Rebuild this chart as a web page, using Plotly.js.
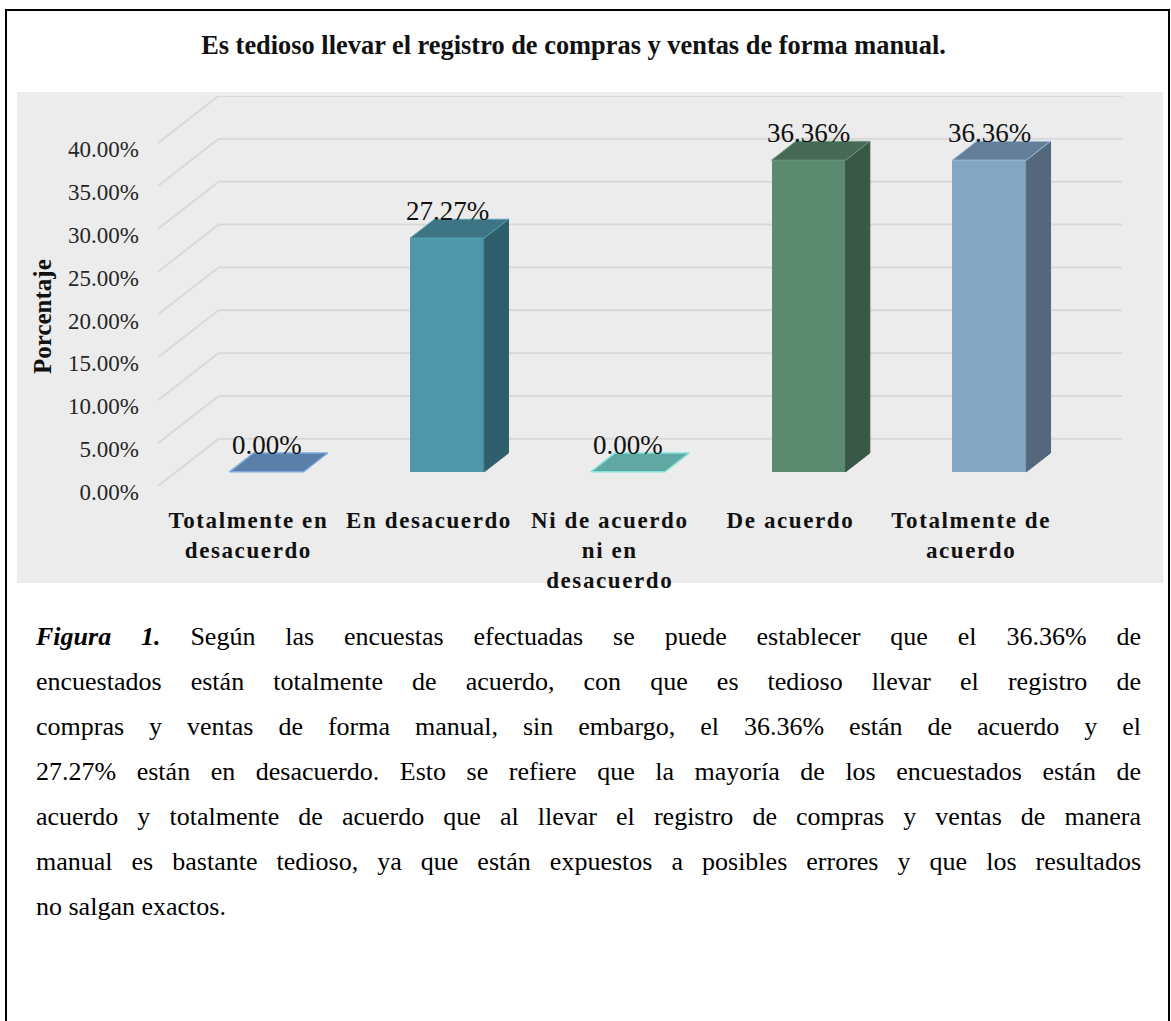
<!DOCTYPE html>
<html>
<head>
<meta charset="utf-8">
<script src="https://cdn.plot.ly/plotly-3.0.1.min.js"></script>
<style>
html,body{margin:0;padding:0;background:#fff;width:1171px;height:1021px;overflow:hidden;}
#frame{position:absolute;left:5px;top:9px;width:1165px;height:1100px;border:2px solid #000;box-sizing:border-box;}
#panel{position:absolute;left:17px;top:92px;width:1146px;height:491px;background:#ececec;}
#chart{position:absolute;left:0;top:0;width:1171px;height:600px;}
#caption{position:absolute;left:36px;top:614px;width:1105px;font-family:"Liberation Serif","Times New Roman",serif;font-size:26px;color:#000;}
#caption div{height:45px;line-height:45px;text-align:justify;text-align-last:justify;white-space:normal;}
#caption div.last{text-align-last:left;}
.xtick text{letter-spacing:1.6px;}
</style>
</head>
<body>
<div id="frame"></div>
<div id="panel"></div>
<div id="chart"></div>
<div id="caption">
<div><b><i>Figura 1.</i></b> Según las encuestas efectuadas se puede establecer que el 36.36% de</div>
<div>encuestados están totalmente de acuerdo, con que es tedioso llevar el registro de</div>
<div>compras y ventas de forma manual, sin embargo, el 36.36% están de acuerdo y el</div>
<div>27.27% están en desacuerdo. Esto se refiere que la mayoría de los encuestados están de</div>
<div>acuerdo y totalmente de acuerdo que al llevar el registro de compras y ventas de manera</div>
<div>manual es bastante tedioso, ya que están expuestos a posibles errores y que los resultados</div>
<div class="last">no salgan exactos.</div>
</div>
<script>
// ---- data ----
const categories = ["Totalmente en desacuerdo", "En desacuerdo", "Ni de acuerdo ni en desacuerdo", "De acuerdo", "Totalmente de acuerdo"];
const tickLabels = ["Totalmente en<br>desacuerdo", "En desacuerdo", "Ni de acuerdo<br>ni en<br>desacuerdo", "De acuerdo", "Totalmente de<br>acuerdo"];
const percentages = [0.00, 27.27, 0.00, 36.36, 36.36];
const yTicks = [0, 5, 10, 15, 20, 25, 30, 35, 40];
const yTickLabels = ["0.00%", "5.00%", "10.00%", "15.00%", "20.00%", "25.00%", "30.00%", "35.00%", "40.00%"];
const chartTitle = "Es tedioso llevar el registro de compras y ventas de forma manual.";
const yTitle = "Porcentaje";

// ---- styles ----
const frontColors = ["#5b80aa", "#4e97a8", "#61a9a3", "#5c8a70", "#84a6c3"];
const sideColors  = ["#42607f", "#2f5f6b", "#3f7d78", "#3a5847", "#53687c"];
const topColors   = ["#5a7fa8", "#3d7584", "#61a8a2", "#466a55", "#667f98"];
const edgeColors  = ["#7aaadd", "#5aa6b6", "#80e3de", "#6a9a7e", "#9cc0e0"];
const FONT = "Liberation Serif, Times New Roman, serif";

// oblique depth vector (in axis units)
const DX = 0.335, DY = 5.5;
const FRONT = 0.3, DEPTH = 0.4, BW = 0.41;
const xIdx = categories.map((c, i) => i);

const traces = [];
// front faces
traces.push({
  type: "bar",
  x: xIdx.map(i => i + FRONT * DX),
  y: percentages,
  base: percentages.map(() => FRONT * DY),
  width: percentages.map(() => BW),
  marker: {color: frontColors, line: {width: 0}},
  hoverinfo: "skip",
  showlegend: false
});
// side and top faces
percentages.forEach((v, i) => {
  const xc = i + FRONT * DX;
  const xl = xc - BW / 2, xr = xc + BW / 2;
  const b = FRONT * DY, h = b + v;
  const dx = DEPTH * DX, dy = DEPTH * DY;
  if (v > 0) {
    traces.push({
      type: "scatter", mode: "lines", fill: "toself",
      x: [xr, xr, xr + dx, xr + dx, xr],
      y: [b, h, h + dy, b + dy, b],
      fillcolor: sideColors[i], line: {color: sideColors[i], width: 1},
      hoverinfo: "skip", showlegend: false, cliponaxis: false
    });
  }
  traces.push({
    type: "scatter", mode: "lines", fill: "toself",
    x: [xl, xr, xr + dx, xl + dx, xl],
    y: [h, h, h + dy, h + dy, h],
    fillcolor: topColors[i], line: {color: edgeColors[i], width: v > 0 ? 1 : 1.5},
    hoverinfo: "skip", showlegend: false, cliponaxis: false
  });
});

// back wall + side wall gridlines
const shapes = [];
yTicks.forEach(t => {
  shapes.push({type: "line", xref: "x", yref: "y", layer: "below",
    x0: -0.5, y0: t, x1: -0.5 + DX, y1: t + DY, line: {color: "#d9d9d9", width: 2}});
  shapes.push({type: "line", xref: "x", yref: "y", layer: "below",
    x0: -0.5 + DX, y0: t + DY, x1: categories.length - 0.5 + DX, y1: t + DY, line: {color: "#d9d9d9", width: 2}});
});

const ML = 158, MR = 49, MT = 96, MB = 114, W = 1171, H = 600;

// data labels
const annotations = percentages.map((v, i) => ({
  x: i + FRONT * DX, y: v + (FRONT + DEPTH) * DY, xref: "x", yref: "y",
  text: v.toFixed(2) + "%", showarrow: false, yanchor: "middle", yshift: 8,
  font: {family: FONT, size: 27, color: "#111"}
}));
annotations.push({
  x: (42 - ML) / (W - ML - MR), y: 1 - (317 - MT) / (H - MT - MB),
  xref: "paper", yref: "paper", xanchor: "center", yanchor: "middle",
  text: yTitle, showarrow: false, textangle: -90,
  font: {family: FONT, size: 25, color: "#111", weight: "bold"}
});

const layout = {
  width: W, height: H,
  margin: {l: ML, r: MR, t: MT, b: MB, pad: 0},
  paper_bgcolor: "rgba(0,0,0,0)", plot_bgcolor: "rgba(0,0,0,0)",
  title: {text: chartTitle, x: 573.5 / W, xref: "container", xanchor: "center",
          y: 1 - 45 / H, yref: "container", yanchor: "middle",
          font: {family: FONT, size: 26.4, color: "#111", weight: "bold"}},
  xaxis: {range: [-0.5, categories.length - 0.5 + DX], tickvals: xIdx, ticktext: tickLabels,
          showgrid: false, zeroline: false, showline: false, ticks: "",
          ticklabelstandoff: 18,
          tickfont: {family: FONT, size: 23, color: "#111", weight: "bold"}},
  yaxis: {range: [0, 40 + DY], tickvals: yTicks, ticktext: yTickLabels,
          showgrid: false, zeroline: false, showline: false, ticks: "",
          ticklabelstandoff: 18, ticklabelshift: 6,
          tickfont: {family: FONT, size: 23, color: "#262626"}},
  shapes: shapes,
  annotations: annotations,
  showlegend: false,
  bargap: 0
};

Plotly.newPlot("chart", traces, layout, {staticPlot: true, displayModeBar: false});
</script>
</body>
</html>
